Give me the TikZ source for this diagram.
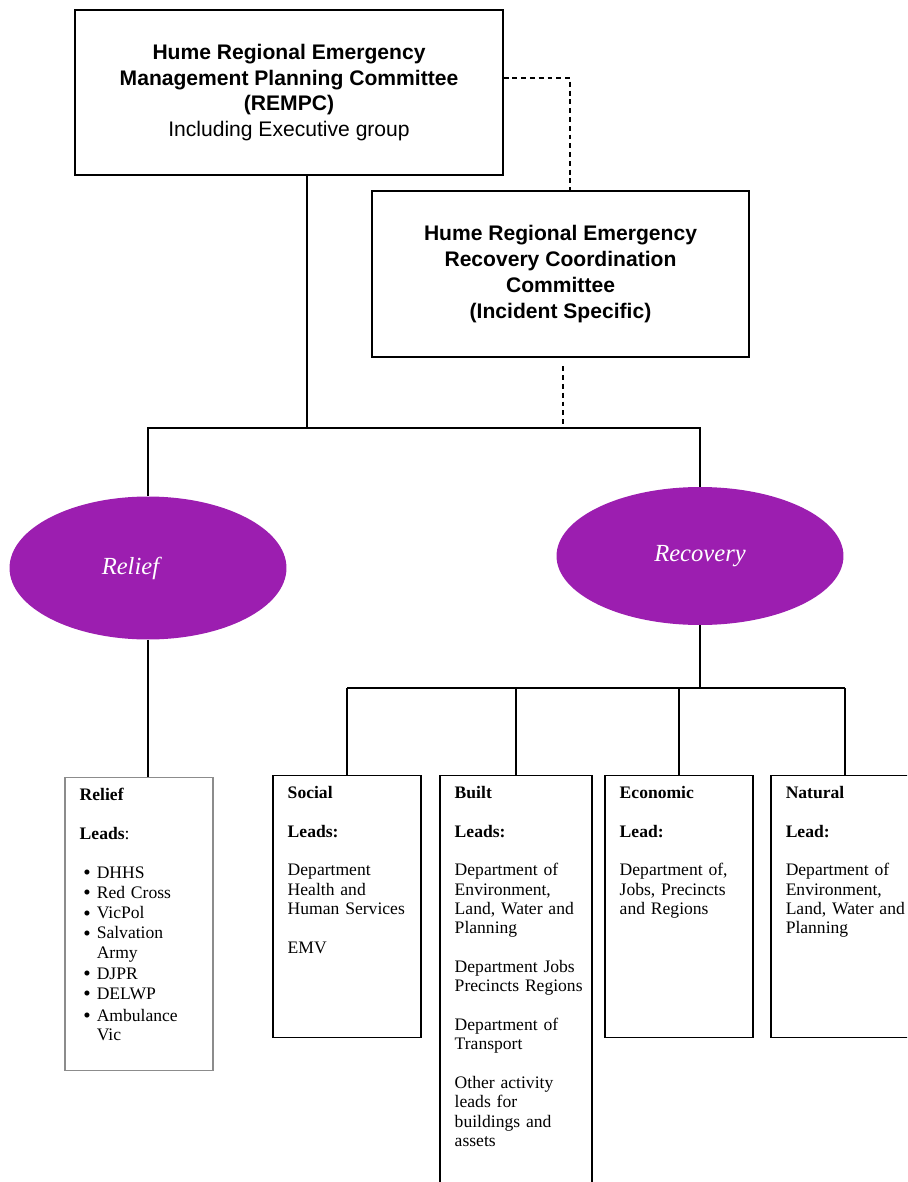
\documentclass[tikz,border=0pt]{standalone}
\usepackage{fontspec}
\setmainfont{Liberation Serif}
\newfontfamily\headfont{Liberation Sans}
\usetikzlibrary{shapes.geometric}
\definecolor{rpurple}{RGB}{156,30,176}
\definecolor{rgrey}{RGB}{140,140,140}
\tikzset{
  committee/.style={draw, line width=0.7pt, align=center, inner sep=0pt,
    font=\headfont\fontsize{12}{14.7}\selectfont},
  phase/.style={ellipse, fill=rpurple, text=white, inner sep=0pt,
    font=\itshape\fontsize{14}{16}\selectfont},
  leadframe/.style={draw, line width=0.7pt, inner sep=0pt, anchor=north},
  leadtext/.style={anchor=north west, inner sep=0pt, text width=2.8cm, align=left,
    font=\fontsize{10}{11}\selectfont},
  link/.style={line width=0.6pt},
  dashlink/.style={line width=0.6pt, dash pattern=on 2.8pt off 2.2pt}
}
\newcommand\leadbullet{\hspace*{2pt}\raisebox{-0.9pt}{\large\textbullet}\hspace{3.5pt}}
\newcommand\leadindent{\hphantom{\leadbullet}}
\def\leadbox#1#2#3#4#5#6#7{
  % 1: name
  % 2: x of centre
  % 3: y of top
  % 4: width (px)
  % 5: height (px)
  % 6: frame colour
  % 7: text
  \node[leadframe, draw=#6, minimum width=#4*0.02cm, minimum height=#5*0.02cm] (#1) at (#2,#3) {};
  \node[leadtext] (#1-text) at ([shift={(15,11)}]#1.north west) {#7};
}

\begin{document}
\begin{tikzpicture}[x=0.02cm, y=-0.02cm]
  \useasboundingbox (0,0) rectangle (907,1182);
  \clip (0,0) rectangle (907,1182);

  % committees
  \node[committee, minimum width=8.56cm, minimum height=3.3cm] (rempc) at (289,92.5)
    {\textbf{Hume Regional Emergency}\\ \textbf{Management Planning Committee}\\
     \textbf{(REMPC)}\\ Including Executive group};
  \node[committee, minimum width=7.54cm, minimum height=3.32cm] (rercc) at (560.5,274)
    {\textbf{Hume Regional Emergency}\\ \textbf{Recovery Coordination}\\
     \textbf{Committee}\\ \textbf{(Incident Specific)}};

  % relief and recovery
  \node[phase, minimum width=5.54cm, minimum height=2.86cm] (relief) at (148,568) {Relief\hspace*{20pt}};
  \node[phase, minimum width=5.74cm, minimum height=2.76cm] (recovery) at (700,556) {Recovery};

  % lead boxes
  \leadbox{reliefbox}{139}{777}{148}{293}{rgrey}{%
    \fontsize{10}{11.5}\selectfont
    \textbf{Relief}\\[10.5pt]\textbf{Leads}:\\[10.5pt]
    \leadbullet DHHS\\ \leadbullet Red Cross\\ \leadbullet VicPol\\
    \leadbullet Salvation\\ \leadindent Army\\ \leadbullet DJPR\\
    \leadbullet DELWP\\[1pt] \leadbullet Ambulance\\ \leadindent Vic}
  \leadbox{social}{347}{775}{148}{262}{black}{%
    \textbf{Social}\\[11pt]\textbf{Leads:}\\[11pt]
    Department\\ Health and\\ Human Services\\[11pt]EMV}
  \leadbox{built}{516}{775}{152}{430}{black}{%
    \textbf{Built}\\[11pt]\textbf{Leads:}\\[11pt]
    Department of\\ Environment,\\ Land, Water and\\ Planning\\[11pt]
    Department Jobs\\ Precincts Regions\\[11pt]
    Department of\\ Transport\\[11pt]
    Other activity\\ leads for\\ buildings and\\ assets}
  \leadbox{economic}{679}{775}{148}{262}{black}{%
    \textbf{Economic}\\[11pt]\textbf{Lead:}\\[11pt]
    Department of,\\ Jobs, Precincts\\ and Regions}
  \leadbox{natural}{845}{775}{148}{262}{black}{%
    \textbf{Natural}\\[11pt]\textbf{Lead:}\\[11pt]
    Department of\\ Environment,\\ Land, Water and\\ Planning}

  % connectors
  \coordinate (topbus) at (307,428);
  \coordinate (recbus) at (695,688);
  \coordinate (dashcorner) at (570,78);
  \coordinate (rerccdrop) at (563,428);
  \draw[link] (rempc.south -| topbus) -- (topbus);
  \draw[link] (relief.north) -- (relief.north |- topbus) -- (recovery.north |- topbus) -- (recovery.north);
  \draw[dashlink] (rempc.east |- dashcorner) -- (dashcorner) -- (dashcorner |- rercc.north);
  \draw[dashlink] ([yshift=-5]rercc.south -| rerccdrop) -- (rerccdrop);
  \draw[link] (relief.south) -- (relief.south |- reliefbox.north);
  \draw[link] (recovery.south) -- (recovery.south |- recbus);
  \draw[link] (social.north |- recbus) -- (natural.north |- recbus);
  \foreach \n in {social,built,economic,natural}
    \draw[link] (\n.north |- recbus) -- (\n.north);
\end{tikzpicture}
\end{document}
